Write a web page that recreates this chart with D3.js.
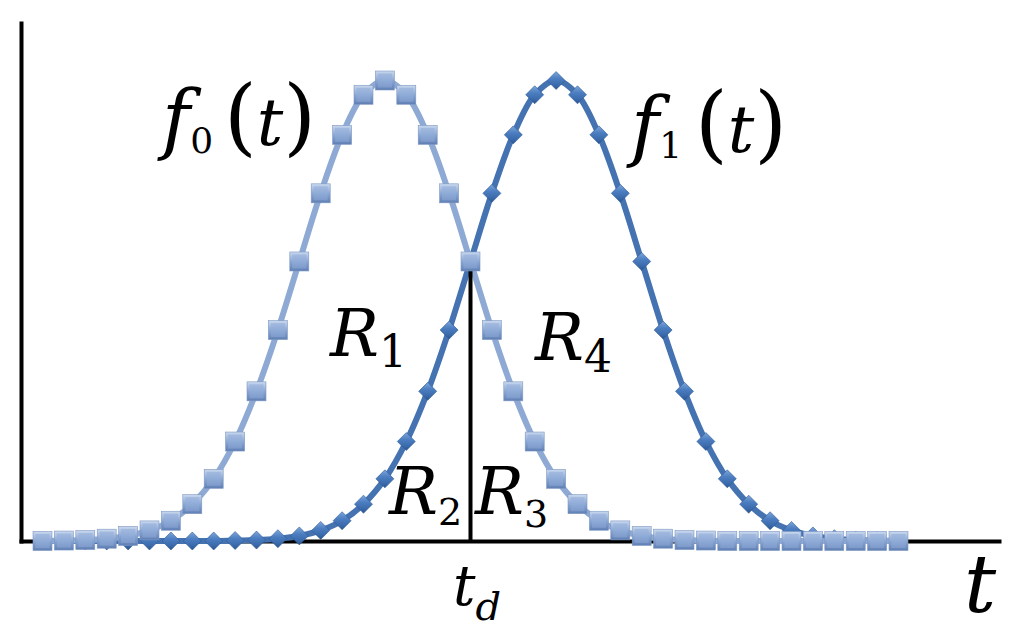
<!DOCTYPE html>
<html>
<head>
<meta charset="utf-8">
<script src="https://cdn.jsdelivr.net/npm/d3@7"></script>
<style>
  html, body { margin: 0; padding: 0; background: #ffffff; }
  svg { display: block; }
</style>
</head>
<body>
<svg id="chart" width="1016" height="642"></svg>
<script>
// ---- data ----
const sampleIndex = d3.range(0, 41);           // 41 equally spaced samples of t
const f0Values = [0.000, 0.001, 0.002, 0.005, 0.011, 0.023, 0.044, 0.080, 0.135, 0.216,
                  0.325, 0.458, 0.607, 0.755, 0.882, 0.969, 1.000, 0.969, 0.882, 0.755,
                  0.607, 0.458, 0.325, 0.216, 0.135, 0.080, 0.044, 0.023, 0.011, 0.005,
                  0.002, 0.001, 0.000, 0.000, 0.000, 0.000, 0.000, 0.000, 0.000, 0.000, 0.000];
const f1Values = [0.000, 0.000, 0.000, 0.000, 0.000, 0.000, 0.000, 0.000, 0.000, 0.001,
                  0.002, 0.005, 0.011, 0.023, 0.044, 0.080, 0.135, 0.216, 0.325, 0.458,
                  0.607, 0.755, 0.882, 0.969, 1.000, 0.969, 0.882, 0.755, 0.607, 0.458,
                  0.325, 0.216, 0.135, 0.080, 0.044, 0.023, 0.011, 0.005, 0.002, 0.001, 0.000];
const thresholdIndex = 20;   // t_d

// ---- layout ----
const svg = d3.select("#chart");
const FONT = "DejaVu Serif";
const x = d3.scaleLinear().domain([0, 40]).range([42.5, 898.5]);
const y = d3.scaleLinear().domain([0, 1]).range([541, 80.5]);
const axisLeftX = 21, axisTopY = 21, axisRightX = 1001;

// gradients for markers
const defs = svg.append("defs");
function vGrad(id, stops) {
  const g = defs.append("linearGradient").attr("id", id).attr("x1", 0).attr("y1", 0).attr("x2", 0).attr("y2", 1);
  stops.forEach(([o, c]) => g.append("stop").attr("offset", o).attr("stop-color", c));
}
vGrad("sqOuter", [[0, "#c9d8ee"], [0.5, "#8ba7d4"], [1, "#5f7fb4"]]);
vGrad("sqInner", [[0, "#a3badf"], [0.5, "#8fabd7"], [1, "#7d9acb"]]);
vGrad("diGrad", [[0, "#7ea6da"], [0.4, "#4b7dc0"], [0.75, "#3b6bac"], [1, "#2a5590"]]);

// axes (no ticks)
const xAxisScale = d3.scaleLinear().domain([0, 1]).range([axisLeftX - 2, axisRightX]);
const yAxisScale = d3.scaleLinear().domain([0, 1]).range([y(0) + 2, axisTopY]);
svg.append("g").attr("transform", `translate(0,${y(0)})`)
  .call(d3.axisBottom(xAxisScale).tickValues([]).tickSizeOuter(0));
svg.append("g").attr("transform", `translate(${axisLeftX},0)`)
  .call(d3.axisLeft(yAxisScale).tickValues([]).tickSizeOuter(0));
svg.selectAll(".domain").attr("stroke", "#000").attr("stroke-width", 4);

const line = d3.line().x((d, i) => x(sampleIndex[i])).y(d => y(d)).curve(d3.curveCatmullRom.alpha(0.5));

svg.append("path").datum(f1Values).attr("d", line)
  .attr("fill", "none").attr("stroke", "#4572b1").attr("stroke-width", 6).attr("stroke-linejoin", "round");
svg.append("path").datum(f0Values).attr("d", line)
  .attr("fill", "none").attr("stroke", "#8eaad4").attr("stroke-width", 6).attr("stroke-linejoin", "round");

// threshold t_d
svg.append("line")
  .attr("x1", x(thresholdIndex)).attr("x2", x(thresholdIndex))
  .attr("y1", y(0)).attr("y2", y(f0Values[thresholdIndex]))
  .attr("stroke", "#000").attr("stroke-width", 4);

// f1 diamonds
const dh = 9;
svg.append("g").selectAll("path").data(f1Values).join("path")
  .attr("d", `M0,${-dh}L${dh},0L0,${dh}L${-dh},0Z`)
  .attr("transform", (d, i) => `translate(${x(sampleIndex[i])},${y(d)})`)
  .attr("fill", "url(#diGrad)").attr("stroke", "#2e5a96").attr("stroke-width", 0.6);

// f0 squares (bevelled)
const sh = 9.5, bev = 2.5;
const sq = svg.append("g").selectAll("g").data(f0Values).join("g")
  .attr("transform", (d, i) => `translate(${x(sampleIndex[i])},${y(d)})`);
sq.append("rect").attr("x", -sh).attr("y", -sh).attr("width", 2 * sh).attr("height", 2 * sh)
  .attr("fill", "url(#sqOuter)").attr("stroke", "#7d97c2").attr("stroke-width", 0.6);
sq.append("rect").attr("x", -sh + bev).attr("y", -sh + bev).attr("width", 2 * (sh - bev)).attr("height", 2 * (sh - bev))
  .attr("fill", "url(#sqInner)");

// ---- annotation text (math style): each label is one text, pieces flow left to right ----
// piece: t = text, s = size, it = italic, dx = extra gap, dy = baseline shift
const labels = [
  { x: 162, y: 145, parts: [
    { t: "f", s: 76, it: true }, { t: "0", s: 36, dy: 8 },
    { t: "(", s: 84, dx: 11, dy: -8 }, { t: "t", s: 66, it: true }, { t: ")", s: 84 } ] },
  { x: 631, y: 152, parts: [
    { t: "f", s: 76, it: true }, { t: "1", s: 36, dy: 6 },
    { t: "(", s: 84, dx: 13, dy: -6 }, { t: "t", s: 66, it: true }, { t: ")", s: 84 } ] },
  { x: 330, y: 356, parts: [ { t: "R", s: 65, it: true }, { t: "1", s: 44, dy: 11 } ] },
  { x: 535, y: 360, parts: [ { t: "R", s: 65, it: true }, { t: "4", s: 44, dy: 12 } ] },
  { x: 389, y: 514, parts: [ { t: "R", s: 65, it: true }, { t: "2", s: 38, dy: 11 } ] },
  { x: 475, y: 514, parts: [ { t: "R", s: 65, it: true }, { t: "3", s: 38, dy: 13 } ] },
  { x: 453, y: 605, parts: [ { t: "t", s: 56, it: true }, { t: "d", s: 40, it: true, dy: 15 } ] },
  { x: 964, y: 612, parts: [ { t: "t", s: 80, it: true } ] }
];
const texts = svg.append("g").selectAll("text").data(labels).join("text")
  .attr("x", d => d.x).attr("y", d => d.y)
  .attr("font-family", FONT).attr("fill", "#000");
texts.selectAll("tspan").data(d => d.parts).join("tspan")
  .attr("dx", d => d.dx || 0).attr("dy", d => d.dy || 0)
  .attr("font-size", d => d.s)
  .attr("font-style", d => d.it ? "italic" : "normal")
  .text(d => d.t);
</script>
</body>
</html>
